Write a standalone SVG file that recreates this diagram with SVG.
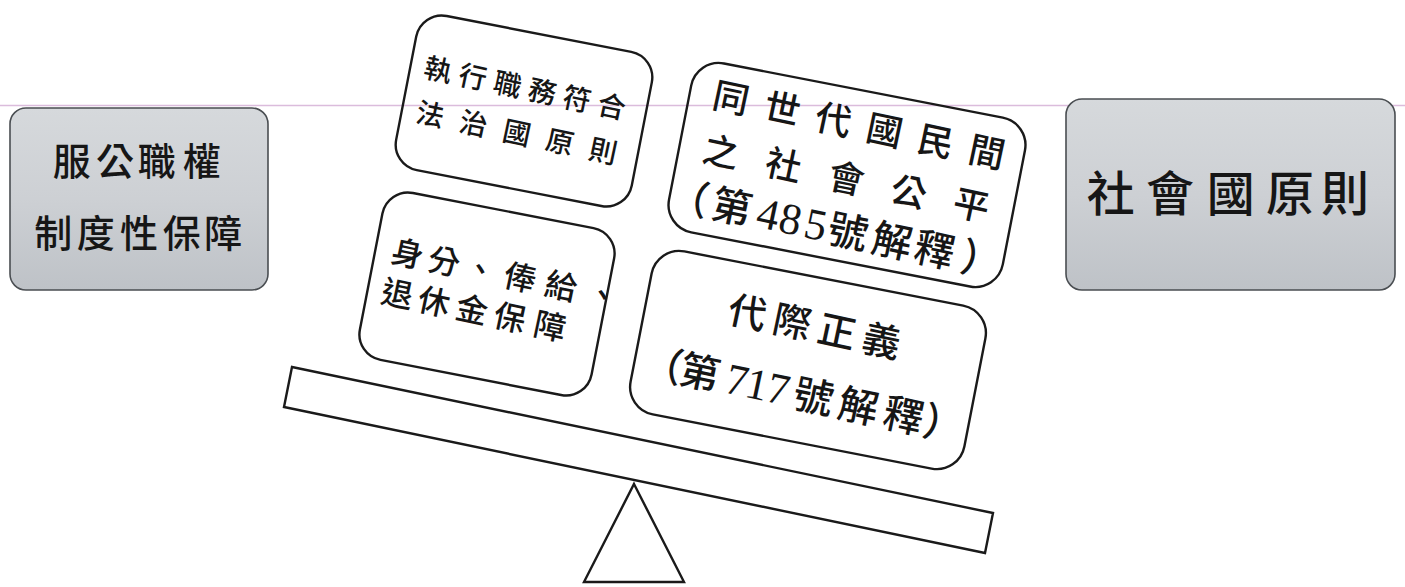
<svg xmlns="http://www.w3.org/2000/svg" width="1405" height="587" viewBox="0 0 1405 587">
<style>
.t{font-family:'Liberation Serif','Noto Sans CJK TC',serif;fill:#161616;text-anchor:middle;font-weight:500}
.box{fill:none;stroke:#1a1a1a;stroke-width:2.4}
.gbox{fill:url(#silver);stroke:#4a4e52;stroke-width:1.6}
.ln{fill:none;stroke:#1a1a1a;stroke-width:2.4;stroke-linejoin:miter}
</style>
<defs>
<linearGradient id="silver" x1="0" y1="0" x2="0" y2="1">
<stop offset="0" stop-color="#d6d9dc"/>
<stop offset="0.5" stop-color="#cdd0d4"/>
<stop offset="1" stop-color="#bec2c7"/>
</linearGradient>
</defs>
<rect width="1405" height="587" fill="#ffffff"/>
<line x1="0" y1="105.5" x2="1405" y2="105.5" stroke="#dbbcdc" stroke-width="1.5"/>

<g id="left-node">
<rect class="gbox" x="10" y="108" width="258" height="182" rx="16"/>
<text class="t" font-size="38" x="71.7 115 156.7 201.7" y="175">服公職權</text>
<text class="t" font-size="38" x="53.3 95.7 139 181.7 223.3" y="246.7">制度性保障</text>
</g>

<g id="right-node">
<rect class="gbox" x="1066" y="99" width="329" height="191" rx="16"/>
<text class="t" font-size="48" x="1110.7 1170 1230.7 1290 1345" y="210.5">社會國原則</text>
</g>

<g id="node-rule-of-law" transform="translate(524,111)">
<rect class="box" transform="rotate(11)" x="-120" y="-78.5" width="240" height="157" rx="26"/>
<g transform="rotate(12)">
<text class="t" font-size="28" x="-92.7 -57.2 -21.7 13.8 49.3 84.8" y="-12.4">執行職務符合</text>
<text class="t" font-size="28" x="-91 -46.8 -2.6 41.6 85.8" y="33.1">法治國原則</text>
</g>
</g>

<g id="node-status" transform="translate(487,294)">
<rect class="box" transform="rotate(11)" x="-118" y="-85" width="236" height="170" rx="26"/>
<g transform="rotate(12)">
<text class="t" font-size="32" x="-86 -48.7 -11.8 29 70.9 113.2" y="-11.3">身分、俸給、</text>
<text class="t" font-size="32" x="-87.5 -50.2 -11.7 27.2 68.4" y="30.2">退休金保障</text>
</g>
</g>

<g id="node-social-fairness" transform="translate(847,175)">
<rect class="box" transform="rotate(11)" x="-170" y="-86" width="340" height="172" rx="28"/>
<g transform="rotate(12)">
<text class="t" font-size="36" x="-129.4 -77.1 -24.8 27.5 79.8 132.1" y="-38.3">同世代國民間</text>
<text class="t" font-size="36" x="-128 -64 0 64 128" y="16.7">之社會公平</text>
<text class="t" font-size="40" x="-150 -106.1" y="69.7">（第<tspan font-size="44" x="-68.7 -45.9 -20.3">485</tspan><tspan x="12.9 57.8 101.4 149">號解釋）</tspan></text>
</g>
</g>

<g id="node-intergenerational" transform="translate(808,360)">
<rect class="box" transform="rotate(11)" x="-170" y="-83" width="340" height="166" rx="28"/>
<g transform="rotate(12)">
<text class="t" font-size="38" x="-69 -23.3 22.3 68" y="-20.2">代際正義</text>
<text class="t" font-size="40" x="-141 -103.2" y="49.2">（第<tspan font-size="44" x="-65.3 -44.8 -23.1">717</tspan><tspan x="13.2 58.9 105 146">號解釋）</tspan></text>
</g>
</g>

<g id="connectors">
<polygon id="beam" class="ln" points="292,367 993,513 985,553 284,407"/>
<polygon id="fulcrum" class="ln" points="634,484 684,582 584,582"/>
</g>
</svg>
